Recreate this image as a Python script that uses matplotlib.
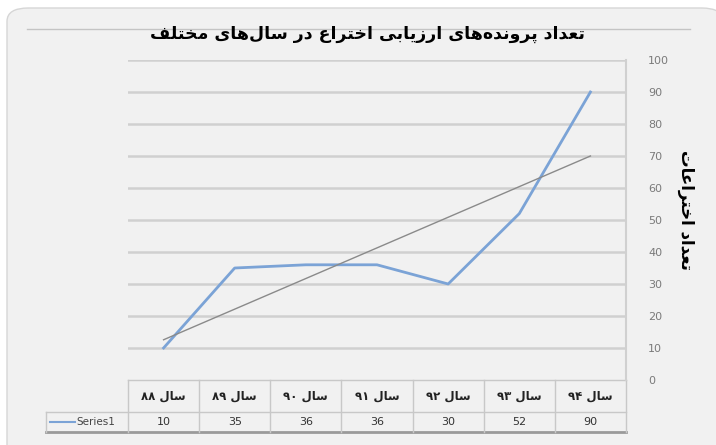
import re
import numpy as np
import matplotlib
matplotlib.use("Agg")
import matplotlib.pyplot as plt
from matplotlib.patches import FancyBboxPatch
from matplotlib.lines import Line2D

plt.rcParams['font.family'] = ['DejaVu Sans']

title = 'تعداد پرونده\u200cهای ارزیابی اختراع در سال\u200cهای مختلف'
y_label = 'تعداد اختراعات'
categories = ['سال ۸۸', 'سال ۸۹', 'سال ۹۰', 'سال ۹۱', 'سال ۹۲', 'سال ۹۳', 'سال ۹۴']
values = [10, 35, 36, 36, 30, 52, 90]
value_labels = ['10', '35', '36', '36', '30', '52', '90']
series_name = 'Series1'
y_ticks = list(range(0, 101, 10))

# forms: isolated, final, initial, medial
FORMS = {
    'ا': ('\uFE8D', '\uFE8E', None, None),
    'ب': ('\uFE8F', '\uFE90', '\uFE91', '\uFE92'),
    'پ': ('\uFB56', '\uFB57', '\uFB58', '\uFB59'),
    'ت': ('\uFE95', '\uFE96', '\uFE97', '\uFE98'),
    'خ': ('\uFEA5', '\uFEA6', '\uFEA7', '\uFEA8'),
    'د': ('\uFEA9', '\uFEAA', None, None),
    'ر': ('\uFEAD', '\uFEAE', None, None),
    'ز': ('\uFEAF', '\uFEB0', None, None),
    'س': ('\uFEB1', '\uFEB2', '\uFEB3', '\uFEB4'),
    'ع': ('\uFEC9', '\uFECA', '\uFECB', '\uFECC'),
    'ف': ('\uFED1', '\uFED2', '\uFED3', '\uFED4'),
    'ل': ('\uFEDD', '\uFEDE', '\uFEDF', '\uFEE0'),
    'م': ('\uFEE1', '\uFEE2', '\uFEE3', '\uFEE4'),
    'ن': ('\uFEE5', '\uFEE6', '\uFEE7', '\uFEE8'),
    'ه': ('\uFEE9', '\uFEEA', '\uFEEB', '\uFEEC'),
    'و': ('\uFEED', '\uFEEE', None, None),
    'ی': ('\uFBFC', '\uFBFD', '\uFBFE', '\uFBFF'),
}


def fa(text):
    """shape persian letters by hand and put them in visual order"""
    out = []
    for i, c in enumerate(text):
        if c not in FORMS:
            if c != '\u200c':
                out.append(c)
            continue
        prev = text[i - 1] if i > 0 else None
        nxt = text[i + 1] if i + 1 < len(text) else None
        jp = prev in FORMS and FORMS[prev][2] is not None
        jn = nxt in FORMS and FORMS[c][2] is not None
        iso, fin, ini, med = FORMS[c]
        if jp and jn:
            out.append(med)
        elif jp:
            out.append(fin)
        elif jn:
            out.append(ini)
        else:
            out.append(iso)
    s = ''.join(out)[::-1]
    return re.sub('[\u06F0-\u06F9]+', lambda m: m.group(0)[::-1], s)


fig = plt.figure(figsize=(7.16, 4.45), dpi=100)
fig.patch.set_facecolor('white')

W, H = 716, 445
bg = FancyBboxPatch((7 / W, -0.05), 1.0, 1.05 - 8 / H,
                    boxstyle='round,pad=0,rounding_size=0.03',
                    transform=fig.transFigure, facecolor='#f1f1f1',
                    edgecolor='#d6d6d6', linewidth=1, zorder=-10)
fig.patches.append(bg)
fig.add_artist(Line2D([27 / W, 690 / W], [1 - 29 / H, 1 - 29 / H],
                      color='#c4c4c4', linewidth=1, zorder=-5))

ax = fig.add_axes([128 / W, 65 / H, 498 / W, 320 / H])
ax.set_facecolor('none')

x = np.arange(len(categories))
ax.plot(x, values, color='#7ba3d6', linewidth=2, zorder=3)
slope, intercept = np.polyfit(x, values, 1)
ax.plot(x, slope * x + intercept, color='#8a8a8a', linewidth=1, zorder=4)

ax.set_xlim(-0.5, len(categories) - 0.5)
ax.set_ylim(0, 100)
ax.set_yticks(y_ticks)
ax.yaxis.tick_right()
ax.tick_params(axis='y', length=0, pad=16, labelsize=8, labelcolor='#7a7a7a')
ax.set_xticks([])
for yv in y_ticks[1:]:
    ax.axhline(yv, color='#d0d0d0', linewidth=1.8, zorder=1)
for side in ['left', 'top', 'bottom']:
    ax.spines[side].set_visible(False)
ax.spines['right'].set_color('#d0d0d0')
ax.spines['right'].set_linewidth(1.5)

fig.text(367 / W, 1 - 34 / H, fa(title), ha='center', va='center',
         fontsize=12.5, fontweight='bold')
ax.text(1.12, 0.53, fa(y_label), transform=ax.transAxes, rotation=270,
        ha='center', va='center', fontsize=12, fontweight='bold')

# data table under the plot
tr = ax.get_xaxis_transform()
h1, h2 = -0.1, -0.1625
left = -1.65
lc = '#c8c8c8'
ax.plot([-0.5, 6.5], [0, 0], transform=tr, color=lc, lw=1, clip_on=False)
ax.plot([left, 6.5], [h1, h1], transform=tr, color=lc, lw=1, clip_on=False)
ax.plot([left, 6.5], [h2, h2], transform=tr, color='#9a9a9a', lw=2, clip_on=False)
ax.plot([left, left], [h1, h2], transform=tr, color=lc, lw=1, clip_on=False)
for b in np.arange(-0.5, 7, 1):
    ax.plot([b, b], [0, h2], transform=tr, color=lc, lw=1, clip_on=False)
for i, (c, v) in enumerate(zip(categories, value_labels)):
    ax.text(i, h1 / 2, fa(c), transform=tr, ha='center', va='center',
            fontsize=8.5, fontweight='bold', color='#222222')
    ax.text(i, (h1 + h2) / 2, v, transform=tr, ha='center', va='center',
            fontsize=8, color='#333333')
ax.plot([left + 0.05, left + 0.4], [(h1 + h2) / 2] * 2, transform=tr,
        color='#7ba3d6', lw=1.5, clip_on=False)
ax.text(left + 0.42, (h1 + h2) / 2, series_name, transform=tr, ha='left',
        va='center', fontsize=7.5, color='#444444')

fig.savefig('out.png', dpi=100)
